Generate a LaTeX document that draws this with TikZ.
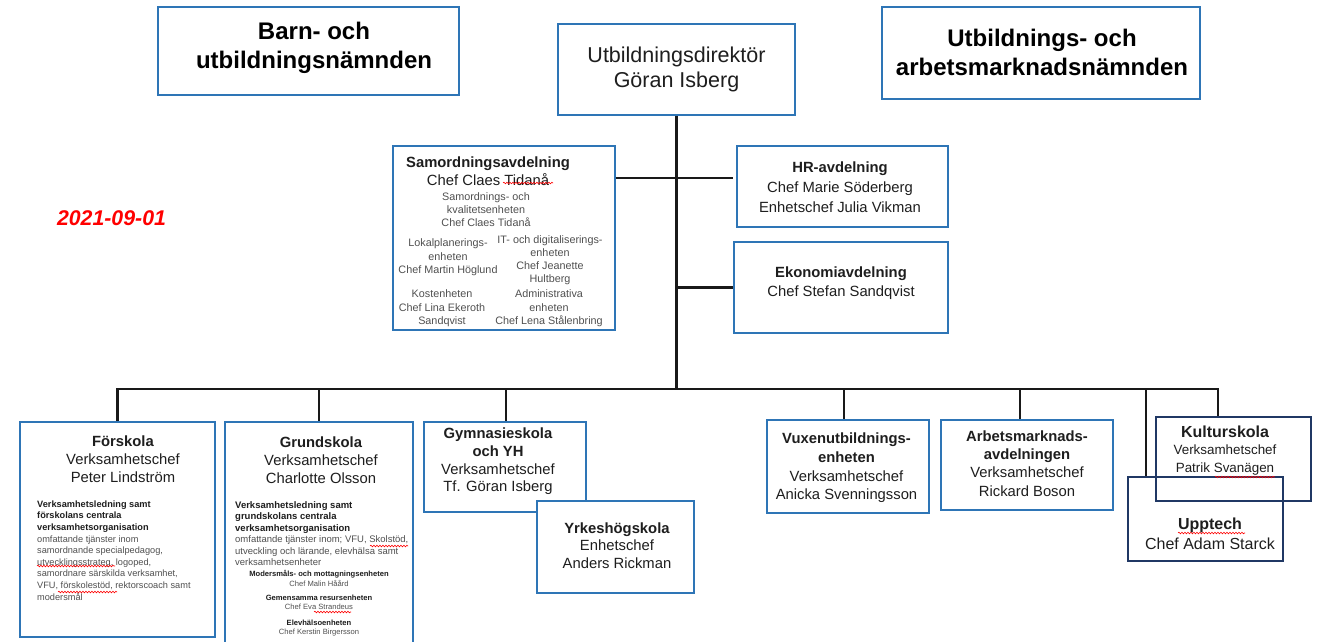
\documentclass[tikz,border=0pt]{standalone}
\usepackage{fontspec}
\setmainfont{Liberation Sans}
\usetikzlibrary{decorations.pathmorphing}
\definecolor{boxblue}{RGB}{46,117,182}
\definecolor{boxnavy}{RGB}{32,56,100}
\definecolor{txtdark}{RGB}{30,30,30}
\definecolor{txtgray}{RGB}{80,80,80}
\definecolor{datered}{RGB}{255,0,0}

\begin{document}
\begin{tikzpicture}[x=1pt, y=-1pt,
    box/.style={draw=boxblue, line width=1.6pt, fill=white, inner sep=0pt},
    navybox/.style={box, draw=boxnavy, fill=none},
    link/.style={line width=2.2pt, black!90},
    txt/.style={inner sep=0pt, align=center, text=txtdark, font=\fontsize{14.8}{18}\selectfont},
    head/.style={txt, text=black, font=\bfseries\fontsize{24}{29}\selectfont},
    tiny/.style={txt, text=txtgray, font=\fontsize{10.8}{13}\selectfont},
    para/.style={inner sep=0pt, align=left, anchor=north west, text=txtdark},
    unit/.style={txt, font=\fontsize{7.6}{9.5}\selectfont},
    squiggle/.style={red, line width=0.6pt, decorate,
      decoration={snake, segment length=3pt, amplitude=0.8pt}}]
\useasboundingbox (0,0) rectangle (1317,641);

% top row
\node[box, minimum width=301pt, minimum height=88pt] (barn) at (308.5,51) {};
\node[box, minimum width=237pt, minimum height=91pt] (dir) at (676.5,69.5) {};
\node[box, minimum width=318pt, minimum height=92pt] (uan) at (1041,53) {};
\node[head] (barntxt) at (314,48) {Barn- och\\utbildningsnämnden};
\node[head] (uantxt) at (1042,52) {Utbildnings- och\\arbetsmarknadsnämnden};
\node[txt, font=\fontsize{21.5}{25}\selectfont] (dirtxt) at (676.5,69.5) {Utbildningsdirektör\\Göran Isberg};
\node[inner sep=0pt, text=datered, font=\bfseries\itshape\fontsize{21.3}{24}\selectfont] (date) at (111.5,218) {2021-09-01};

% staff units
\node[box, minimum width=222pt, minimum height=184pt] (samord) at (504,238) {};
\node[box, minimum width=211pt, minimum height=81pt] (hr) at (842.5,186.5) {};
\node[box, minimum width=214pt, minimum height=91pt] (eko) at (841,287.5) {};
\node[txt] (samordtxt) at (488,171) {\textbf{Samordningsavdelning}\\Chef Claes Tidanå};
\node[tiny] (kval) at (486,210) {Samordnings- och\\kvalitetsenheten\\Chef Claes Tidanå};
\node[tiny, font=\fontsize{10.8}{13.5}\selectfont] (lokal) at (448,257.5) {Lokalplanerings-\\enheten\\Chef Martin Höglund};
\node[tiny] (digit) at (550,260) {IT- och digitaliserings-\\enheten\\Chef Jeanette\\Hultberg};
\node[tiny, font=\fontsize{10.8}{13.5}\selectfont] (kost) at (442,308.5) {Kostenheten\\Chef Lina Ekeroth\\Sandqvist};
\node[tiny, font=\fontsize{10.8}{13.5}\selectfont] (admin) at (549,308.5) {Administrativa\\enheten\\Chef Lena Stålenbring};
\node[txt, font=\fontsize{14.8}{20}\selectfont] (hrtxt) at (840,187) {\textbf{HR-avdelning}\\Chef Marie Söderberg\\Enhetschef Julia Vikman};
\node[txt, font=\fontsize{14.8}{19}\selectfont] (ekotxt) at (841,283.5) {\textbf{Ekonomiavdelning}\\Chef Stefan Sandqvist};

% line units
\node[box, minimum width=195pt, minimum height=215pt] (forsk) at (117.5,529.5) {};
\node[box, minimum width=188pt, minimum height=226pt] (grund) at (319,535) {};
\node[box, minimum width=162pt, minimum height=90pt] (gymn) at (505,467) {};
\node[box, minimum width=157pt, minimum height=92pt] (yrkes) at (615.5,547) {};
\node[box, minimum width=162pt, minimum height=93pt] (vuxen) at (848,466.5) {};
\node[box, minimum width=172pt, minimum height=90pt] (arbm) at (1027,465) {};
\node[navybox, minimum width=155pt, minimum height=84pt] (kultur) at (1233.5,459) {};
\node[navybox, minimum width=155pt, minimum height=84pt] (upptech) at (1205.5,519) {};

\node[txt] (forsktxt) at (123,459) {\textbf{Förskola}\\Verksamhetschef\\Peter Lindström};
\node[para, font=\fontsize{9.2}{11.6}\selectfont] (forskpara) at (37,500.5) {\textbf{Verksamhetsledning samt}\\\textbf{förskolans centrala}\\\textbf{verksamhetsorganisation}\\\textcolor{txtgray}{omfattande tjänster inom}\\\textcolor{txtgray}{samordnande specialpedagog,}\\\textcolor{txtgray}{utvecklingsstrateg, logoped,}\\\textcolor{txtgray}{samordnare särskilda verksamhet,}\\\textcolor{txtgray}{VFU, förskolestöd, rektorscoach samt}\\\textcolor{txtgray}{modersmål}};
\node[txt] (grundtxt) at (321,460.5) {\textbf{Grundskola}\\Verksamhetschef\\Charlotte Olsson};
\node[para, font=\fontsize{9.5}{11.4}\selectfont] (grundpara) at (235,501.5) {\textbf{Verksamhetsledning samt}\\\textbf{grundskolans centrala}\\\textbf{verksamhetsorganisation}\\\textcolor{txtgray}{omfattande tjänster inom; VFU, Skolstöd,}\\\textcolor{txtgray}{utveckling och lärande, elevhälsa samt}\\\textcolor{txtgray}{verksamhetsenheter}};
\node[unit] (modt) at (319,578.5) {\textbf{Modersmåls- och mottagningsenheten}\\\textcolor{txtgray}{Chef Malin Håård}};
\node[unit] (gem) at (319,602.5) {\textbf{Gemensamma resursenheten}\\\textcolor{txtgray}{Chef Eva Strandeus}};
\node[unit] (elev) at (319,628) {\textbf{Elevhälsoenheten}\\\textcolor{txtgray}{Chef Kerstin Birgersson}};
\node[txt, font=\fontsize{14.8}{17.7}\selectfont] (gymntxt) at (498,461.5) {\textbf{Gymnasieskola}\\\textbf{och YH}\\Verksamhetschef\\Tf. Göran Isberg};
\node[txt, font=\fontsize{14.8}{17.5}\selectfont] (yrkestxt) at (617,545.5) {\textbf{Yrkeshögskola}\\Enhetschef\\Anders Rickman};
\node[txt, font=\fontsize{14.8}{18.7}\selectfont] (vuxtxt) at (846.5,468) {\textbf{Vuxenutbildnings-}\\\textbf{enheten}\\Verksamhetschef\\Anicka Svenningsson};
\node[txt, font=\fontsize{14.8}{18.3}\selectfont] (arbmtxt) at (1027,463.5) {\textbf{Arbetsmarknads-}\\\textbf{avdelningen}\\Verksamhetschef\\Rickard Boson};
\node[txt, font=\fontsize{13.4}{17.5}\selectfont] (kulttxt) at (1225,450.5) {{\fontsize{16}{17.5}\selectfont\bfseries Kulturskola}\\Verksamhetschef\\Patrik Svanägen};
\node[txt, font=\fontsize{16}{20}\selectfont] (upptxt) at (1210,534) {\textbf{Upptech}\\Chef Adam Starck};

% connectors
\coordinate (kdrop) at (1218,389);
\coordinate (hrend) at (733,178);
\draw[link] (dir) -- (dir |- kdrop);
\draw[link] (samord.east |- hrend) -- (hrend);
\draw[link] (dir |- eko.west) -- (eko.west);
\draw[link] (forsk.north) |- (kdrop) -- (kdrop |- kultur.north);
\foreach \n/\x in {grund/319, gymn/506, vuxen/844, arbm/1020, upptech/1146}
  \draw[link] (\x,389) -- (\x,389 |- \n.north);

% spelling marks
\draw[squiggle] (503,183) -- (553,183);
\draw[squiggle] (1215,477) -- (1275,477);
\draw[squiggle] (1178,533) -- (1245,533);
\draw[squiggle] (370,546) -- (408,546);
\draw[squiggle] (314,612) -- (351,612);
\draw[squiggle] (37,566) -- (115,566);
\draw[squiggle] (58,592) -- (117,592);
\end{tikzpicture}
\end{document}
